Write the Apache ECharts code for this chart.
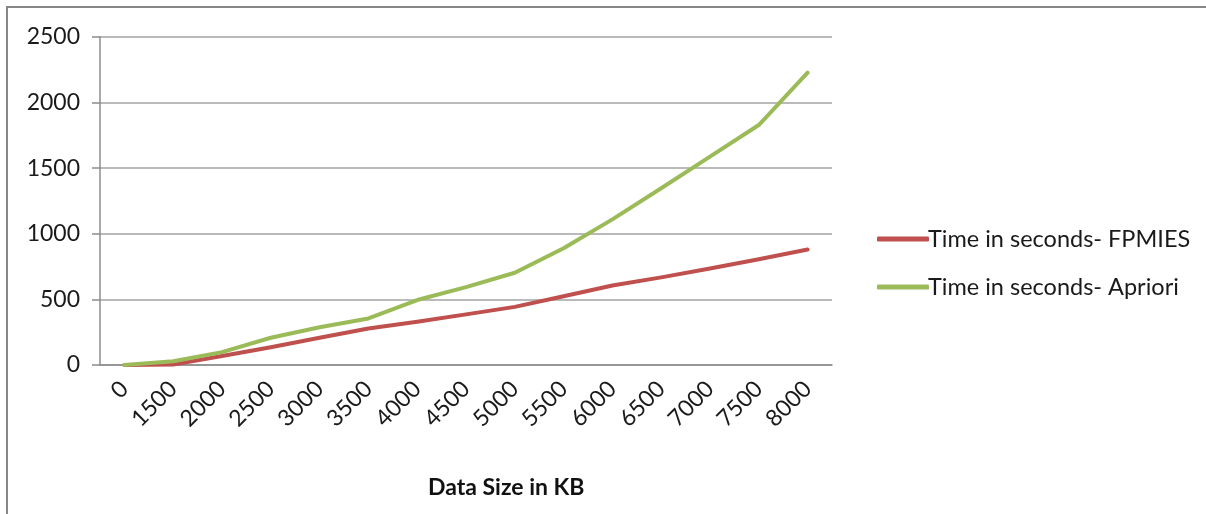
<!DOCTYPE html>
<html>
<head>
<meta charset="utf-8">
<script src="https://cdn.jsdelivr.net/npm/echarts@6/dist/echarts.min.js"></script>
<style>
  html, body { margin: 0; padding: 0; background: #fff; }
  #chart { width: 1206px; height: 514px; }
</style>
</head>
<body>
<div id="chart"></div>
<script>
// data
const categories = ["0", "1500", "2000", "2500", "3000", "3500", "4000", "4500",
  "5000", "5500", "6000", "6500", "7000", "7500", "8000"];
const fpmies = [0, 3, 68, 135, 208, 278, 330, 386, 443, 524, 606, 668, 735, 806, 880];
const apriori = [0, 28, 98, 208, 288, 355, 495, 594, 703, 890, 1110, 1347, 1588, 1829, 2228];
const yTicks = { min: 0, max: 2500, interval: 500 };

const FONT = "Lato";
const chart = echarts.init(document.getElementById("chart"));

chart.setOption({
  animation: false,
  textStyle: { fontFamily: FONT },
  graphic: [
    {
      // outer chart frame
      type: "rect",
      shape: { x: 7, y: 7, width: 1240, height: 540 },
      style: { fill: "none", stroke: "#878787", lineWidth: 2 }
    },
    {
      type: "text",
      left: 428,
      top: 476,
      style: { text: "Data Size in KB", font: "bold 23px " + FONT, fill: "#111" }
    }
  ],
  grid: { left: 100, right: 374, top: 37, bottom: 149 },
  legend: {
    orient: "vertical",
    left: 872,
    top: 222,
    itemWidth: 52,
    itemHeight: 5,
    itemGap: 24,
    icon: "roundRect",
    textStyle: { fontSize: 23.5, color: "#1a1a1a", fontFamily: FONT, padding: [0, 0, 0, -6] },
    data: ["Time in seconds- FPMIES", "Time in seconds- Apriori"]
  },
  xAxis: {
    type: "category",
    data: categories,
    boundaryGap: true,
    axisLine: { lineStyle: { color: "#8c8c8c", width: 1.5 } },
    axisTick: { length: 8, lineStyle: { color: "#8c8c8c", width: 1.5 } },
    axisLabel: { rotate: 45, fontSize: 23, color: "#1a1a1a", margin: 20, interval: 0 }
  },
  yAxis: {
    type: "value",
    min: yTicks.min,
    max: yTicks.max,
    interval: yTicks.interval,
    axisLine: { show: true, lineStyle: { color: "#8c8c8c", width: 1.5 } },
    axisTick: { show: true, length: 8, lineStyle: { color: "#8c8c8c", width: 1.5 } },
    axisLabel: { fontSize: 23, color: "#1a1a1a", margin: 20, formatter: (v) => String(v) },
    splitLine: { lineStyle: { color: "#a3a3a3", width: 1.5 } }
  },
  series: [
    {
      name: "Time in seconds- FPMIES",
      type: "line",
      data: fpmies,
      symbol: "none",
      color: "#c0504d",
      lineStyle: { width: 4, cap: "round", join: "round" }
    },
    {
      name: "Time in seconds- Apriori",
      type: "line",
      data: apriori,
      symbol: "none",
      color: "#9bbb59",
      lineStyle: { width: 4, cap: "round", join: "round" }
    }
  ]
});
</script>
</body>
</html>
